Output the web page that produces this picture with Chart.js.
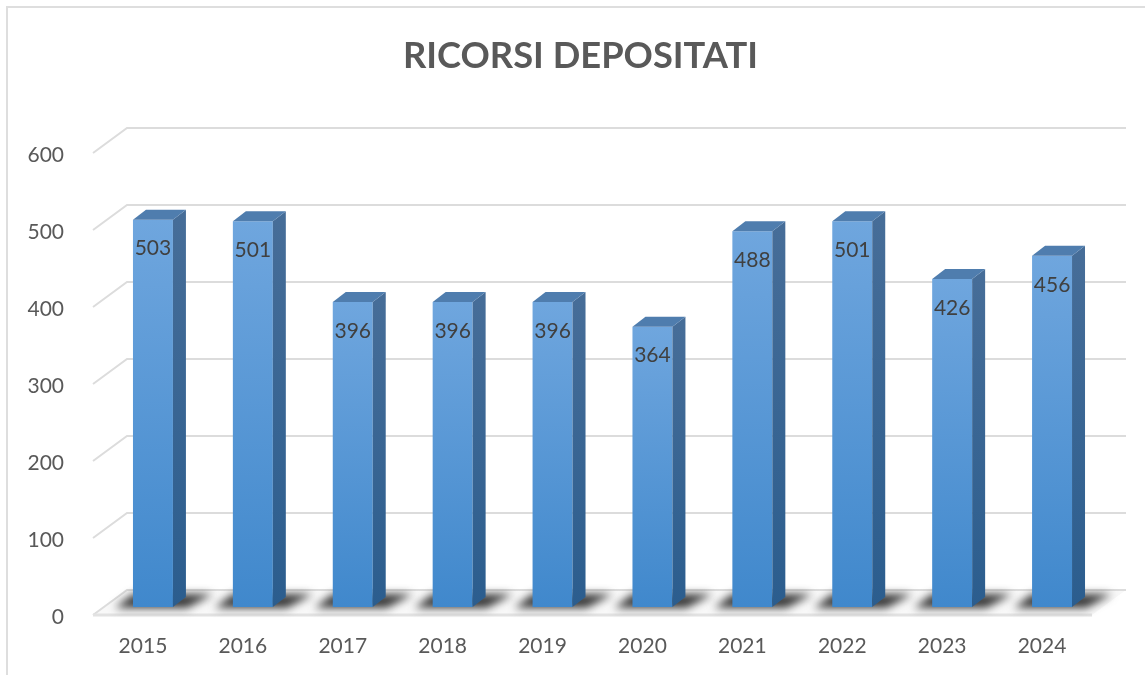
<!DOCTYPE html>
<html><head><meta charset="utf-8">
<style>html,body{margin:0;padding:0;background:#fff;overflow:hidden}canvas{display:block;filter:blur(0.55px)}</style>
<script src="https://cdn.jsdelivr.net/npm/chart.js@4"></script></head>
<body><canvas id="c" width="1145" height="675"></canvas>
<script>
const titleText = "RICORSI DEPOSITATI";
const years = ["2015","2016","2017","2018","2019","2020","2021","2022","2023","2024"];
const ricorsi = [503,501,396,396,396,364,488,501,426,456];
const yTicks = [0,100,200,300,400,500,600];

const GRID="#dcdcdc", FONT="Lato, Carlito, sans-serif";
// y scale sits FRONT px below the drawn planes so that its tick text lines up with the reference
const FRONT=-2, WALL={dx:34,dy:-25}, SHIFT={dx:10,dy:-10}, DEPTH={dx:13,dy:-10};

const scene={
  id:"scene",
  afterLayout(chart){ const t=chart.titleBlock; t.left=16; t.right=1145; },
  beforeDatasetsDraw(chart){
    const {ctx,scales:{y},chartArea:a}=chart;
    ctx.save();
    // outer frame
    ctx.strokeStyle="#dedede"; ctx.lineWidth=2;
    ctx.beginPath(); ctx.moveTo(7,675); ctx.lineTo(7,7); ctx.lineTo(1145,7); ctx.stroke();
    // floor plate
    const y0=y.getPixelForValue(0)+FRONT;
    ctx.fillStyle="#f8f8f8";
    ctx.beginPath(); ctx.moveTo(a.left,y0); ctx.lineTo(a.right,y0); ctx.lineTo(a.right+WALL.dx,y0+WALL.dy); ctx.lineTo(a.left+WALL.dx,y0+WALL.dy); ctx.closePath(); ctx.fill();
    // wall grid + left side grid
    ctx.strokeStyle=GRID; ctx.lineWidth=2;
    yTicks.forEach(v=>{
      const p=y.getPixelForValue(v)+FRONT;
      ctx.beginPath(); ctx.moveTo(a.left,p); ctx.lineTo(a.left+WALL.dx,p+WALL.dy); ctx.lineTo(a.right+WALL.dx,p+WALL.dy); ctx.stroke();
    });
    ctx.lineWidth=3; ctx.strokeStyle="#e2e2e2";
    ctx.beginPath(); ctx.moveTo(a.left,y0); ctx.lineTo(a.right,y0); ctx.stroke();
    // floor shadows
    const bars=chart.getDatasetMeta(0).data;
    ctx.filter="blur(4px)";
    bars.forEach(b=>{
      const l=b.x-b.width/2+SHIFT.dx, r=b.x+b.width/2+SHIFT.dx, by=y.getPixelForValue(0)+SHIFT.dy;
      ctx.fillStyle="#383838";
      ctx.beginPath(); ctx.moveTo(l-18,by+1); ctx.lineTo(r+14,by+1); ctx.lineTo(r+40,by-13); ctx.lineTo(l,by-13); ctx.closePath(); ctx.fill();
    });
    ctx.restore();
    ctx.save(); ctx.translate(SHIFT.dx,SHIFT.dy);
  },
  afterDatasetsDraw(chart){
    const {ctx,scales:{y}}=chart;
    const y0=y.getPixelForValue(0);
    const bars=chart.getDatasetMeta(0).data;
    bars.forEach(b=>{
      const l=b.x-b.width/2, r=b.x+b.width/2;
      const g=ctx.createLinearGradient(0,b.y,0,y0);
      g.addColorStop(0,"#466d98"); g.addColorStop(1,"#2b5d8e");
      ctx.fillStyle=g;
      ctx.beginPath(); ctx.moveTo(r,b.y); ctx.lineTo(r+DEPTH.dx,b.y+DEPTH.dy); ctx.lineTo(r+DEPTH.dx,y0+DEPTH.dy); ctx.lineTo(r,y0); ctx.closePath(); ctx.fill();
      ctx.fillStyle="#4f7dae";
      ctx.beginPath(); ctx.moveTo(l,b.y); ctx.lineTo(l+DEPTH.dx,b.y+DEPTH.dy); ctx.lineTo(r+DEPTH.dx,b.y+DEPTH.dy); ctx.lineTo(r,b.y); ctx.closePath(); ctx.fill();
    });
    ctx.restore();
    // value labels
    ctx.save();
    ctx.font="21px "+FONT; ctx.fillStyle="#404040"; ctx.textAlign="center"; ctx.textBaseline="middle";
    bars.forEach((b,i)=>ctx.fillText(String(ricorsi[i]),b.x+SHIFT.dx,b.y+SHIFT.dy+29));
    ctx.restore();
  }
};

new Chart(document.getElementById("c"),{
  type:"bar",
  data:{labels:years,datasets:[{
    label:titleText,data:ricorsi,categoryPercentage:1,barPercentage:0.4,borderWidth:0,
    backgroundColor(c){
      const ch=c.chart; if(!ch.chartArea||!c.parsed) return "#5595d6";
      const y=ch.scales.y, g=ch.ctx.createLinearGradient(0,y.getPixelForValue(c.parsed.y),0,y.getPixelForValue(0));
      g.addColorStop(0,"#6fa6de"); g.addColorStop(1,"#4088cc");
      return g;
    }
  }]},
  plugins:[scene],
  options:{
    responsive:false,animation:false,devicePixelRatio:1,
    layout:{padding:{left:0,right:53,top:0,bottom:0}},
    plugins:{
      legend:{display:false},tooltip:{enabled:false},
      title:{display:true,text:titleText,color:"#595959",font:{family:FONT,size:36.3,weight:"bold"},padding:{top:35,bottom:76.4}}
    },
    scales:{
      x:{grid:{display:false},border:{display:false},
         ticks:{color:"#595959",font:{family:FONT,size:21},padding:9,maxRotation:0,autoSkip:false},
         afterFit(s){s.height=58;}},
      y:{min:0,max:600,grid:{display:false},border:{display:false},
         ticks:{color:"#595959",font:{family:FONT,size:21},padding:21,stepSize:100},
         afterFit(s){s.width=93;}}
    }
  }
});
</script></body></html>
